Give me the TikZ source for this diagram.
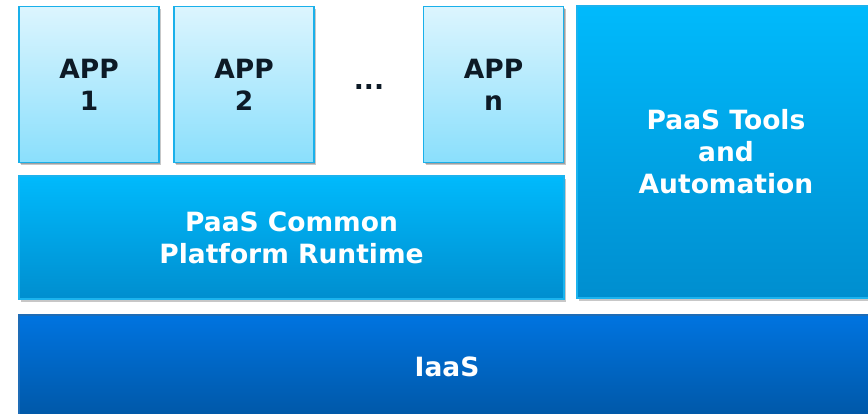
\documentclass[tikz,border=0pt]{standalone}
\usepackage{fontspec}
\setmainfont{DejaVu Sans}
\usetikzlibrary{shadows}
\definecolor{appTop}{HTML}{DCF5FE}
\definecolor{appBot}{HTML}{8ADFFC}
\definecolor{appLine}{HTML}{1AB0EA}
\definecolor{midTop}{HTML}{00BAFC}
\definecolor{midBot}{HTML}{008ECF}
\definecolor{midLine}{HTML}{1CB3EE}
\definecolor{baseTop}{HTML}{0074E0}
\definecolor{baseBot}{HTML}{0057A6}
\definecolor{baseLine}{HTML}{1E6CB6}
\definecolor{darkText}{HTML}{0D1A26}
\tikzset{
  layer/.style={rectangle, line width=1.8pt, align=center,
    font=\fontsize{26.5}{32}\selectfont\bfseries,
    drop shadow={shadow xshift=2pt, shadow yshift=-3pt, opacity=0.22, fill=black},
    drop shadow={shadow xshift=1pt, shadow yshift=-1.5pt, opacity=0.2, fill=black}},
  appbox/.style={layer, draw=appLine, top color=appTop, bottom color=appBot,
    text=darkText, minimum width=140pt, minimum height=156pt},
  midbox/.style={layer, draw=midLine, top color=midTop, bottom color=midBot, text=white},
  basebox/.style={layer, draw=baseLine, top color=baseTop, bottom color=baseBot, text=white},
}
\begin{document}
\begin{tikzpicture}[x=1pt, y=-1pt]
\useasboundingbox (0,0) rectangle (868,414);
\clip (0,0) rectangle (868,414);
% application tier
\node[appbox] (app1) at (89,84.5) {APP\\1};
\node[appbox] (app2) at (244,84.5) {APP\\2};
\node[appbox] (appn) at (493.5,84.5) {APP\\n};
\node[font=\fontsize{26.5}{32}\selectfont\bfseries, text=darkText, anchor=base] (dots) at (369,90) {...};
% platform tier
\node[midbox, minimum width=545pt, minimum height=123pt] (runtime) at (291.5,237.5) {PaaS Common\\Platform Runtime};
\node[midbox, minimum width=298pt, minimum height=292pt] (tools) at (726,152) {PaaS Tools\\and\\Automation};
% infrastructure tier
\node[basebox, minimum width=856pt, minimum height=104pt] (iaas) at (447,367) {IaaS};
\end{tikzpicture}
\end{document}
